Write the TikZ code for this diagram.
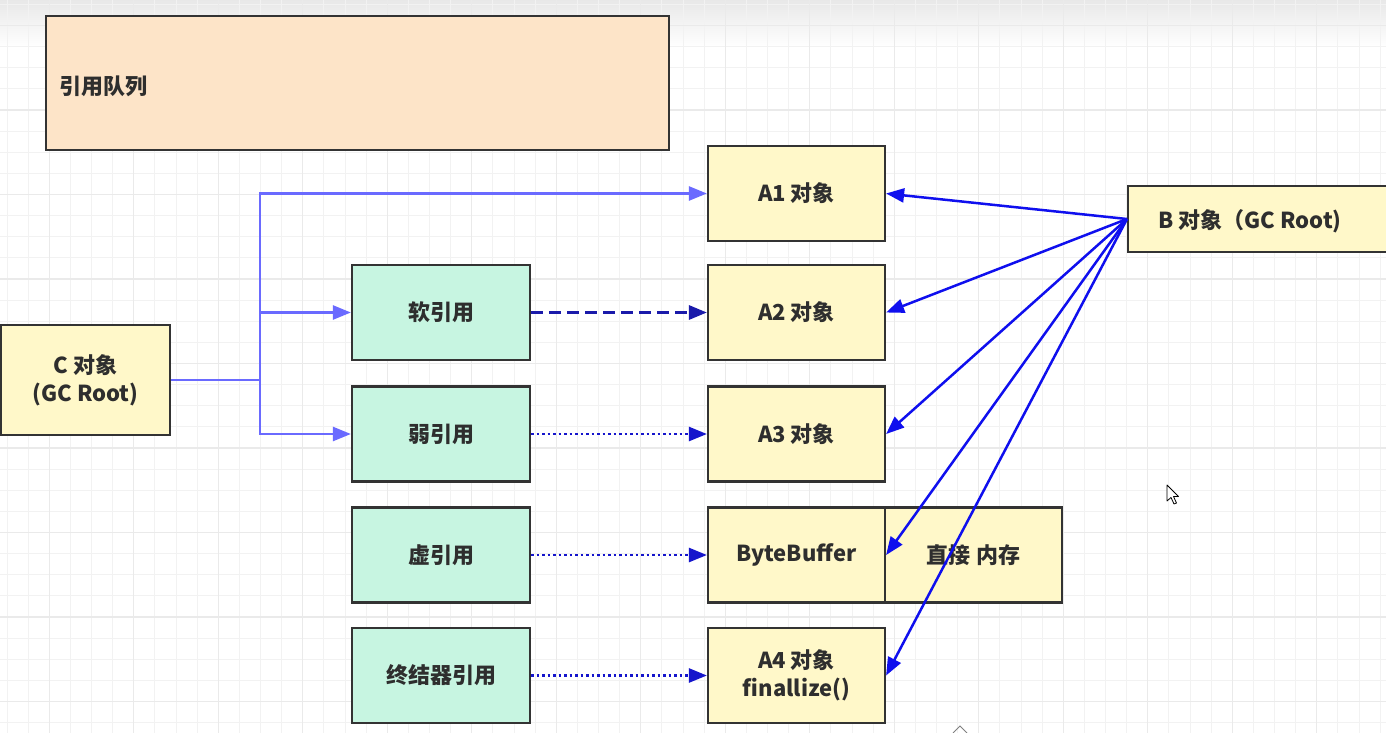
\documentclass[tikz,border=0pt]{standalone}
\usepackage{fontspec}
\setmainfont{Noto Sans CJK SC}
\usetikzlibrary{arrows.meta}
\definecolor{boxline}{HTML}{333333}
\definecolor{yel}{HTML}{FFF8C9}
\definecolor{mint}{HTML}{C7F5E1}
\definecolor{peach}{HTML}{FDE4C8}
\definecolor{cblue}{HTML}{6A6AFF}
\definecolor{navy}{HTML}{1A1AAA}
\definecolor{dblue}{HTML}{1515CC}
\definecolor{bblue}{HTML}{0F0FEE}
\definecolor{txt}{HTML}{2E2E2E}
\definecolor{gridminor}{HTML}{F2F2F2}
\definecolor{gridmajor}{HTML}{EAEAEA}
\begin{document}
\begin{tikzpicture}[x=1pt,y=-1pt,
  box/.style={draw=boxline, line width=2.2pt, rectangle, inner sep=0pt,
    font=\fontsize{22}{28}\selectfont\bfseries, text=txt, align=center},
  ybox/.style={box, fill=yel, minimum width=177pt, minimum height=95pt},
  mbox/.style={box, fill=mint, minimum width=178pt, minimum height=95pt},
  tip/.style={-{Triangle[length=18pt,width=14pt]}},
  cline/.style={cblue, line width=2.5pt, tip},
  softline/.style={navy, line width=3pt, dash pattern=on 12pt off 6pt, tip},
  dotline/.style={dblue, line width=2.5pt, dash pattern=on 2.5pt off 3pt, tip},
  bline/.style={bblue, line width=2.5pt, tip},
  labeltext/.style={font=\fontsize{22}{28}\selectfont\bfseries, text=txt, inner sep=0pt}
]
\useasboundingbox (0,0) rectangle (1386,733);
\clip (0,0) rectangle (1386,733);
% background
\fill[white] (0,0) rectangle (1386,733);
\shade[top color=black!9, bottom color=white] (0,0) rectangle (1386,48);
\foreach \i in {0,...,66} \draw[gridminor, line width=1pt] (7+\i*21.125,0) -- (7+\i*21.125,733);
\foreach \j in {0,...,35} \draw[gridminor, line width=1pt] (0,4.375+\j*21.125) -- (1386,4.375+\j*21.125);
\foreach \i in {0,...,16} \draw[gridmajor, line width=1.2pt] (49.25+\i*84.5,0) -- (49.25+\i*84.5,733);
\foreach \j in {0,...,8} \draw[gridmajor, line width=1.2pt] (0,25.5+\j*84.5) -- (1386,25.5+\j*84.5);

% queue
\node (queue) [box, fill=peach, minimum width=623pt, minimum height=134pt] at (357.5,83) {};
\node (qtxt) [labeltext, anchor=west] at (59,86) {引用队列};

% C
\node (C) [box, fill=yel, minimum width=169pt, minimum height=110pt] at (85.5,380) {C 对象\\(GC Root)};

% references
\node (soft) [mbox] at (441,312.5) {软引用};
\node (weak) [mbox] at (441,434) {弱引用};
\node (phan) [mbox] at (441,555) {虚引用};
\node (fin)  [mbox] at (441,675.5) {终结器引用};

% objects
\node (A1) [ybox] at (796.5,193.5) {A1 对象};
\node (A2) [ybox] at (796.5,312.5) {A2 对象};
\node (A3) [ybox] at (796.5,434) {A3 对象};
\node (BB) [ybox] at (796.5,555) {ByteBuffer};
\node (DM) [ybox] at (973.5,555) {直接 内存};
\node (A4) [ybox] at (796.5,675.5) {A4 对象\\finallize()};

% B
\node (B) [box, fill=yel, minimum width=280pt, minimum height=66pt, anchor=west] at (1127,219) {};
\node (Btxt) [labeltext] at (1250,221) {B 对象（GC Root)};

% C connectors
\coordinate (J) at (260,380);
\draw[cblue, line width=2.5pt] (C.east) -- (J);
\draw[cline] (J) |- (A1.west);
\draw[cline] (J) |- (soft.west);
\draw[cline] (J) |- (weak.west);

% reference connectors
\draw[softline] (soft.east) -- (A2.west);
\draw[dotline] (weak.east) -- (A3.west);
\draw[dotline] (phan.east) -- (BB.west);
\draw[dotline] (fin.east) -- (A4.west);

% B connectors
\draw[bline] (B.west) -- (A1.east);
\draw[bline] (B.west) -- (A2.east);
\draw[bline] (B.west) -- (A3.east);
\draw[bline] (B.west) -- (BB.east);
\draw[bline] (B.west) -- (A4.east);

% cursor
\draw[black, line width=0.8pt, fill=white, line join=round]
  (1167,485) -- (1167,501) -- (1171,497.5) -- (1174,504) -- (1176.5,503) -- (1173.5,496.5) -- (1178.5,496.5) -- cycle;
\draw[gray, line width=1pt] (953,733) -- (960,726) -- (967,733);
\end{tikzpicture}
\end{document}
